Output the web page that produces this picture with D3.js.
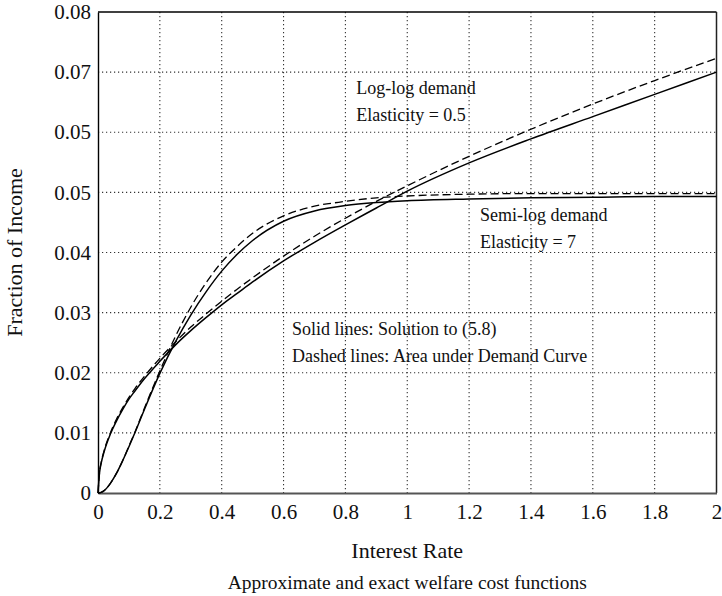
<!DOCTYPE html>
<html>
<head>
<meta charset="utf-8">
<script src="https://cdn.jsdelivr.net/npm/d3@7"></script>
<style>
  body { margin: 0; background: #fff; }
  svg { display: block; }
  text { font-family: "Liberation Serif", "Times New Roman", serif; fill: #111; }
</style>
</head>
<body>
<svg id="chart" width="722" height="596"></svg>
<script>
// Interest rates at which each welfare-cost curve is sampled
const rates = [0, 0.005, 0.01, 0.02, 0.04, 0.06, 0.08, 0.1, 0.12, 0.15, 0.2, 0.25, 0.3, 0.35,
               0.4, 0.45, 0.5, 0.6, 0.7, 0.8, 0.9, 1.0, 1.2, 1.4, 1.6, 1.8, 2.0];

// Log-log demand, elasticity 0.5
const logLogExact = [0, 0.0034, 0.0049, 0.0069, 0.0098, 0.0120, 0.0139, 0.0156, 0.0170, 0.0190,
                     0.0219, 0.0246, 0.0270, 0.0292, 0.0313, 0.0332, 0.0351, 0.0386, 0.0417,
                     0.0446, 0.0474, 0.0502, 0.0549, 0.0589, 0.0626, 0.0663, 0.0700];
const logLogArea  = [0, 0.0035, 0.0050, 0.0071, 0.0100, 0.0123, 0.0142, 0.0159, 0.0174, 0.0194,
                     0.0224, 0.0251, 0.0276, 0.0298, 0.0319, 0.0339, 0.0358, 0.0394, 0.0427,
                     0.0457, 0.0485, 0.0511, 0.0560, 0.0605, 0.0647, 0.0686, 0.0723];

// Semi-log demand, elasticity 7
const semiLogExact = [0, 0.00003, 0.0001, 0.0004, 0.0016, 0.0033, 0.0054, 0.0077, 0.0101, 0.0139,
                      0.0199, 0.0251, 0.0296, 0.0335, 0.0369, 0.0397, 0.0420, 0.0452, 0.0469,
                      0.0478, 0.0483, 0.0486, 0.0489, 0.0491, 0.0492, 0.0493, 0.0493];
const semiLogArea  = [0, 0.00003, 0.0001, 0.0004, 0.0016, 0.0033, 0.0054, 0.0078, 0.0102, 0.0141,
                      0.0203, 0.0260, 0.0309, 0.0350, 0.0384, 0.0410, 0.0432, 0.0461, 0.0477,
                      0.0485, 0.0491, 0.0494, 0.0497, 0.0498, 0.0498, 0.0498, 0.0498];

// Axis ticks and their printed labels
const xTicks = [0, 0.2, 0.4, 0.6, 0.8, 1, 1.2, 1.4, 1.6, 1.8, 2];
const xTickLabels = ["0", "0.2", "0.4", "0.6", "0.8", "1", "1.2", "1.4", "1.6", "1.8", "2"];
const yTicks = [0, 0.01, 0.02, 0.03, 0.04, 0.05, 0.06, 0.07, 0.08];
const yTickLabels = ["0", "0.01", "0.02", "0.03", "0.04", "0.05", "0.05", "0.07", "0.08"];

const series = [
  { values: logLogExact, dashed: false },
  { values: logLogArea, dashed: true },
  { values: semiLogExact, dashed: false },
  { values: semiLogArea, dashed: true }
];

const annotations = [
  { lines: ["Log-log demand", "Elasticity = 0.5"], x: 0.835, y: 0.0663 },
  { lines: ["Semi-log demand", "Elasticity = 7"], x: 1.235, y: 0.0453 },
  { lines: ["Solid lines: Solution to (5.8)", "Dashed lines: Area under Demand Curve"], x: 0.627, y: 0.0262 }
];

const svg = d3.select("#chart");
const plotLeft = 98, plotRight = 716.5, plotTop = 12, plotBottom = 493;

const x = d3.scaleLinear().domain([0, 2]).range([plotLeft, plotRight]);
const y = d3.scaleLinear().domain([0, 0.08]).range([plotBottom, plotTop]);

// Dotted grid
const grid = svg.append("g");
grid.selectAll("line.gx").data(xTicks.slice(1, -1)).join("line")
  .attr("class", "gx")
  .attr("x1", d => x(d)).attr("x2", d => x(d))
  .attr("y1", plotTop).attr("y2", plotBottom)
  .attr("stroke", "#333").attr("stroke-width", 1.1).attr("stroke-dasharray", "1.2,2.8");
grid.selectAll("line.gy").data(yTicks.slice(1, -1)).join("line")
  .attr("class", "gy")
  .attr("x1", plotLeft).attr("x2", plotRight)
  .attr("y1", d => y(d)).attr("y2", d => y(d))
  .attr("stroke", "#333").attr("stroke-width", 1.1).attr("stroke-dasharray", "1.2,2.8");

// Frame
svg.append("line").attr("x1", plotLeft).attr("x2", plotRight).attr("y1", plotTop).attr("y2", plotTop)
  .attr("stroke", "#000").attr("stroke-width", 1.3);
svg.append("line").attr("x1", plotRight).attr("x2", plotRight).attr("y1", plotTop).attr("y2", plotBottom)
  .attr("stroke", "#222").attr("stroke-width", 1.5);

// Axes
const xAxis = d3.axisBottom(x).tickValues(xTicks)
  .tickFormat((d, i) => xTickLabels[i]).tickSize(0).tickPadding(11);
const gx = svg.append("g").attr("transform", `translate(0,${plotBottom})`).call(xAxis);
gx.select(".domain").attr("stroke", "#555").attr("stroke-width", 2.2);
gx.selectAll("text").attr("font-size", 21).attr("font-family", "Liberation Serif").attr("fill", "#111");

const yAxis = d3.axisLeft(y).tickValues(yTicks)
  .tickFormat((d, i) => yTickLabels[i]).tickSize(0).tickPadding(7);
const gy = svg.append("g").attr("transform", `translate(${plotLeft},0)`).call(yAxis);
gy.select(".domain").attr("stroke", "#000").attr("stroke-width", 1.4);
gy.selectAll("text").attr("font-size", 21).attr("font-family", "Liberation Serif").attr("fill", "#111");

// Curves
const line = d3.line()
  .x((d, i) => x(rates[i]))
  .y(d => y(d))
  .curve(d3.curveMonotoneX);

svg.append("g").selectAll("path").data(series).join("path")
  .attr("d", d => line(d.values))
  .attr("fill", "none")
  .attr("stroke", "#000")
  .attr("stroke-width", d => d.dashed ? 1.3 : 1.5)
  .attr("stroke-dasharray", d => d.dashed ? "8,4" : null);

// Annotations
const ann = svg.append("g");
annotations.forEach(a => {
  a.lines.forEach((t, k) => {
    ann.append("text")
      .attr("x", x(a.x)).attr("y", y(a.y) + k * 27)
      .attr("font-size", 18)
      .text(t);
  });
});

// Axis titles and caption
svg.append("text").attr("x", (plotLeft + plotRight) / 2).attr("y", 558)
  .attr("text-anchor", "middle").attr("font-size", 22).text("Interest Rate");
svg.append("text").attr("x", (plotLeft + plotRight) / 2).attr("y", 589)
  .attr("text-anchor", "middle").attr("font-size", 19.5).text("Approximate and exact welfare cost functions");
svg.append("text")
  .attr("transform", `translate(22,${(plotTop + plotBottom) / 2}) rotate(-90)`)
  .attr("text-anchor", "middle").attr("font-size", 22).text("Fraction of Income");
</script>
</body>
</html>
